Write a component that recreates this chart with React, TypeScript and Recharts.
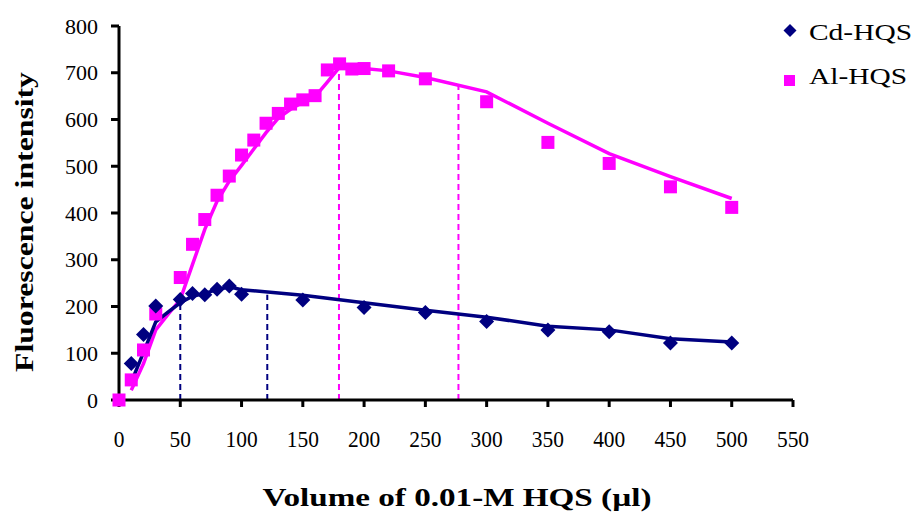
import React from 'react';
import { ComposedChart, XAxis, YAxis, Scatter, Line, ReferenceLine, Legend } from 'recharts';

const FONT = 'Liberation Serif, Times New Roman, DejaVu Serif, serif';
const NAVY = '#000080';
const MAGENTA = '#FF00FF';

const xTicks = [0, 50, 100, 150, 200, 250, 300, 350, 400, 450, 500, 550];
const yTicks = [0, 100, 200, 300, 400, 500, 600, 700, 800];

// Measured points
const cdX = [10, 20, 30, 50, 60, 70, 80, 90, 100, 150, 200, 250, 300, 350, 400, 450, 500];
const cdY = [78, 140, 201, 215, 228, 225, 237, 244, 226, 214, 198, 187, 168, 150, 146, 122, 122];

const alX = [0, 10, 20, 30, 50, 60, 70, 80, 90, 100, 110, 120, 130, 140, 150, 160, 170, 180, 190, 200, 220, 250, 300, 350, 400, 450, 500];
const alY = [0, 43, 107, 184, 262, 333, 386, 438, 479, 524, 556, 592, 613, 633, 642, 651, 706, 719, 708, 709, 704, 687, 638, 551, 506, 456, 412];

// Fitted curves
const cdFitX = [10, 20, 30, 40, 50, 60, 70, 80, 90, 100, 150, 200, 250, 300, 350, 400, 450, 500];
const cdFitY = [38, 102, 167, 188, 208, 222, 228, 236, 242, 236, 224, 208, 192, 177, 158, 150, 131, 124];

const alFitX = [10, 20, 30, 40, 50, 60, 70, 80, 90, 100, 110, 120, 130, 140, 150, 160, 170, 180, 200, 220, 250, 300, 350, 400, 450, 500];
const alFitY = [21, 78, 150, 183, 215, 290, 365, 425, 468, 502, 537, 572, 603, 622, 637, 649, 680, 712, 709, 704, 690, 659, 592, 527, 478, 431];

// Dashed marker lines
const cdMarkX = [50, 121];
const cdMarkTop = [214, 225];
const alMarkX = [179.5, 277];
const alMarkTop = [720, 674];

const seriesNames = ['Cd-HQS', 'Al-HQS'];

const cdPoints = cdX.map((x, i) => ({ x, y: cdY[i] }));
const alPoints = alX.map((x, i) => ({ x, y: alY[i] }));
const cdFit = cdFitX.map((x, i) => ({ x, y: cdFitY[i] }));
const alFit = alFitX.map((x, i) => ({ x, y: alFitY[i] }));

const Diamond = (props: any) => {
  const { cx, cy } = props;
  const r = 7.5;
  return <polygon points={`${cx},${cy - r} ${cx + r},${cy} ${cx},${cy + r} ${cx - r},${cy}`} fill={NAVY} />;
};

const Square = (props: any) => {
  const { cx, cy } = props;
  const s = 13;
  return <rect x={cx - s / 2} y={cy - s / 2} width={s} height={s} fill={MAGENTA} />;
};

const XTick = (props: any) => {
  const { x, y, payload } = props;
  const s = String(payload.value);
  return (
    <text x={x} y={y + 19} textAnchor="middle" fontFamily={FONT} fontSize={23} fill="#000"
      textLength={s.length * 10.7} lengthAdjust="spacingAndGlyphs">
      {s}
    </text>
  );
};

const YTick = (props: any) => {
  const { x, y, payload } = props;
  const s = String(payload.value);
  return (
    <text x={x} y={y + 7.5} textAnchor="end" fontFamily={FONT} fontSize={20.5} fill="#000"
      textLength={s.length * 11} lengthAdjust="spacingAndGlyphs">
      {s}
    </text>
  );
};

const XTitle = () => (
  <text x={457} y={506} textAnchor="middle" fontFamily={FONT} fontWeight="bold" fontSize={25}
    textLength={389} lengthAdjust="spacingAndGlyphs" fill="#000">
    Volume of 0.01-M HQS (µl)
  </text>
);

const YTitle = () => (
  <text x={33} y={222} transform="rotate(-90, 33, 222)" textAnchor="middle" fontFamily={FONT}
    fontWeight="bold" fontSize={25} textLength={300} lengthAdjust="spacingAndGlyphs" fill="#000">
    Fluorescence intensity
  </text>
);

const LegendContent = () => (
  <svg width={139} height={100} style={{ display: 'block' }}>
    <polygon points="13,24 19.5,30.5 13,37 6.5,30.5" fill={NAVY} />
    <text x={32} y={40} fontFamily={FONT} fontSize={23} fill="#000" textLength={103} lengthAdjust="spacingAndGlyphs">
      {seriesNames[0]}
    </text>
    <rect x={7} y={75} width={11} height={11} fill={MAGENTA} />
    <text x={32} y={84} fontFamily={FONT} fontSize={23} fill="#000" textLength={98} lengthAdjust="spacingAndGlyphs">
      {seriesNames[1]}
    </text>
  </svg>
);

export default function App() {
  return (
    <div style={{ position: 'absolute', left: 0, top: 0, width: 916, height: 514, background: '#fff' }}>
      <ComposedChart width={916} height={514} margin={{ top: 26, right: 123, bottom: 0, left: 0 }}>
        <XAxis
          dataKey="x"
          type="number"
          domain={[0, 550]}
          ticks={xTicks}
          interval={0}
          height={114}
          tickSize={7}
          tickMargin={21}
          axisLine={{ stroke: '#000', strokeWidth: 3 }}
          tickLine={{ stroke: '#000', strokeWidth: 3 }}
          tick={<XTick />}
          label={<XTitle />}
        />
        <YAxis
          dataKey="y"
          type="number"
          domain={[0, 800]}
          ticks={yTicks}
          interval={0}
          width={119}
          tickSize={8}
          tickMargin={13}
          axisLine={{ stroke: '#000', strokeWidth: 3 }}
          tickLine={{ stroke: '#000', strokeWidth: 3 }}
          tick={<YTick />}
          label={<YTitle />}
        />
        {cdMarkX.map((x, i) => (
          <ReferenceLine key={'cd' + i} segment={[{ x, y: 0 }, { x, y: cdMarkTop[i] }]}
            stroke={NAVY} strokeWidth={2} strokeDasharray="6 4" />
        ))}
        {alMarkX.map((x, i) => (
          <ReferenceLine key={'al' + i} segment={[{ x, y: 0 }, { x, y: alMarkTop[i] }]}
            stroke={MAGENTA} strokeWidth={2} strokeDasharray="6 4" />
        ))}
        <Line data={alFit} dataKey="y" type="linear" stroke={MAGENTA} strokeWidth={3.5} dot={false}
          isAnimationActive={false} legendType="none" />
        <Line data={cdFit} dataKey="y" type="linear" stroke={NAVY} strokeWidth={3.5} dot={false}
          isAnimationActive={false} legendType="none" />
        <Scatter name={seriesNames[1]} data={alPoints} dataKey="y" shape={<Square />} fill={MAGENTA} isAnimationActive={false} />
        <Scatter name={seriesNames[0]} data={cdPoints} dataKey="y" shape={<Diamond />} fill={NAVY} isAnimationActive={false} />
        <Legend layout="vertical" align="center" verticalAlign="middle"
          wrapperStyle={{ position: 'absolute', left: 777, top: 0, width: 139, height: 100 }}
          content={() => <LegendContent />} />
      </ComposedChart>
    </div>
  );
}
